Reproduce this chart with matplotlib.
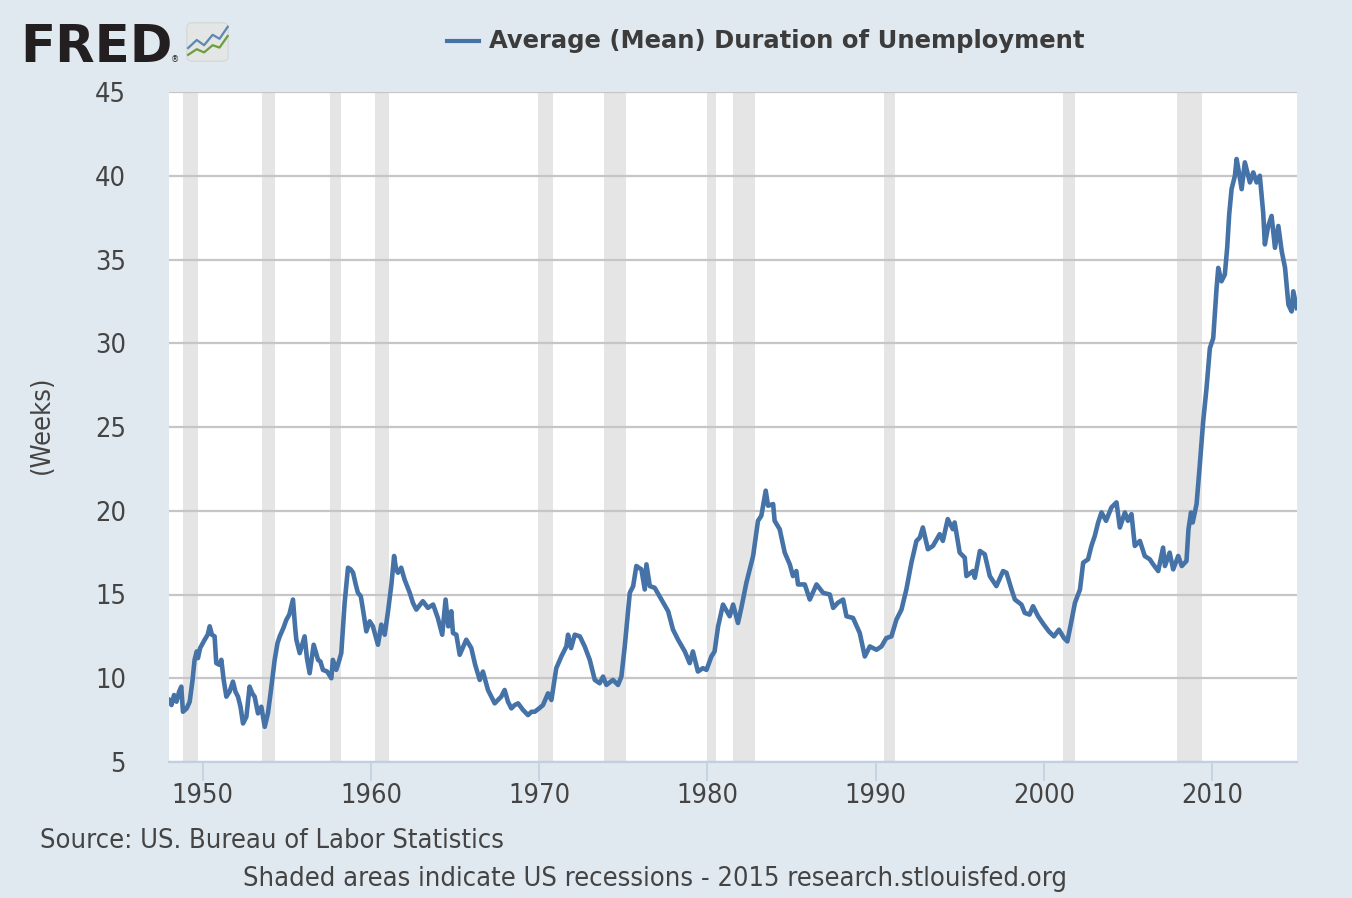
import matplotlib
matplotlib.use('Agg')
import matplotlib.pyplot as plt
from matplotlib.lines import Line2D
from matplotlib.patches import FancyBboxPatch

# Average (Mean) Duration of Unemployment, weeks
years = [
    1948.00, 1948.15, 1948.30, 1948.45, 1948.60, 1948.73, 1948.83, 1949.05, 1949.23, 1949.40,
    1949.52, 1949.65, 1949.72, 1949.85, 1950.12, 1950.30, 1950.42, 1950.55, 1950.71, 1950.81,
    1951.00, 1951.11, 1951.25, 1951.41, 1951.60, 1951.80, 1951.95, 1952.10, 1952.25, 1952.40,
    1952.60, 1952.79, 1952.95, 1953.09, 1953.29, 1953.49, 1953.69, 1953.88, 1954.05, 1954.28,
    1954.45, 1954.58, 1954.80, 1954.98, 1955.15, 1955.27, 1955.37, 1955.50, 1955.57, 1955.77,
    1956.06, 1956.20, 1956.36, 1956.60, 1956.86, 1957.00, 1957.15, 1957.40, 1957.65, 1957.74,
    1957.94, 1958.10, 1958.24, 1958.44, 1958.64, 1958.80, 1958.94, 1959.10, 1959.23, 1959.40,
    1959.53, 1959.73, 1959.93, 1960.12, 1960.42, 1960.62, 1960.82, 1961.02, 1961.22, 1961.38,
    1961.50, 1961.61, 1961.80, 1962.00, 1962.31, 1962.50, 1962.70, 1963.09, 1963.39, 1963.70,
    1963.98, 1964.24, 1964.44, 1964.60, 1964.78, 1964.88, 1965.08, 1965.28, 1965.67, 1965.97,
    1966.20, 1966.47, 1966.66, 1966.96, 1967.36, 1967.55, 1967.75, 1967.95, 1968.15, 1968.35,
    1968.55, 1968.75, 1969.05, 1969.34, 1969.55, 1969.74, 1970.00, 1970.23, 1970.53, 1970.73,
    1971.02, 1971.32, 1971.62, 1971.72, 1971.90, 1972.12, 1972.42, 1972.71, 1973.01, 1973.31,
    1973.60, 1973.80, 1974.00, 1974.39, 1974.69, 1974.89, 1975.09, 1975.39, 1975.59, 1975.78,
    1976.08, 1976.28, 1976.38, 1976.58, 1976.87, 1977.27, 1977.67, 1977.96, 1978.26, 1978.66,
    1978.95, 1979.14, 1979.44, 1979.73, 1979.95, 1980.24, 1980.43, 1980.64, 1980.93, 1981.33,
    1981.53, 1981.82, 1982.02, 1982.32, 1982.72, 1983.01, 1983.21, 1983.47, 1983.61, 1983.91,
    1984.00, 1984.30, 1984.60, 1984.90, 1985.09, 1985.29, 1985.39, 1985.79, 1986.09, 1986.49,
    1986.88, 1987.28, 1987.48, 1987.75, 1988.07, 1988.27, 1988.66, 1989.06, 1989.36, 1989.66,
    1990.05, 1990.35, 1990.64, 1990.94, 1991.24, 1991.54, 1991.83, 1992.13, 1992.43, 1992.63,
    1992.81, 1993.11, 1993.41, 1993.81, 1994.00, 1994.29, 1994.59, 1994.70, 1995.00, 1995.30,
    1995.40, 1995.79, 1995.90, 1996.20, 1996.49, 1996.79, 1997.18, 1997.58, 1997.78, 1998.08,
    1998.28, 1998.67, 1998.87, 1999.15, 1999.36, 1999.66, 2000.00, 2000.30, 2000.60, 2000.90,
    2001.20, 2001.40, 2001.60, 2001.85, 2002.15, 2002.34, 2002.63, 2002.83, 2003.03, 2003.23,
    2003.43, 2003.70, 2004.02, 2004.32, 2004.52, 2004.82, 2005.00, 2005.21, 2005.41, 2005.71,
    2006.00, 2006.30, 2006.50, 2006.80, 2007.09, 2007.20, 2007.48, 2007.69, 2007.99, 2008.20,
    2008.48, 2008.60, 2008.75, 2008.85, 2009.08, 2009.27, 2009.47, 2009.67, 2009.87, 2010.07,
    2010.27, 2010.37, 2010.56, 2010.76, 2010.90, 2011.02, 2011.16, 2011.36, 2011.46, 2011.60,
    2011.76, 2011.95, 2012.25, 2012.45, 2012.65, 2012.84, 2013.04, 2013.14, 2013.34, 2013.54,
    2013.74, 2013.94, 2014.14, 2014.34, 2014.54, 2014.73, 2014.83, 2015.03,
]
weeks = [
    8.7, 8.4, 9.0, 8.6, 9.2, 9.5, 8.0, 8.2, 8.6, 9.9,
    11.1, 11.6, 11.2, 11.8, 12.3, 12.6, 13.1, 12.6, 12.5, 10.9,
    10.8, 11.1, 9.9, 8.9, 9.2, 9.8, 9.2, 8.9, 8.3, 7.3,
    7.7, 9.5, 9.1, 8.9, 7.9, 8.3, 7.1, 7.9, 9.2, 11.1,
    12.1, 12.5, 13.0, 13.5, 13.8, 14.3, 14.7, 13.0, 12.3, 11.5,
    12.5, 11.2, 10.3, 12.0, 11.1, 11.0, 10.5, 10.4, 10.0, 11.1,
    10.5, 11.0, 11.5, 14.5, 16.6, 16.5, 16.3, 15.6, 15.1, 14.9,
    14.1, 12.8, 13.4, 13.1, 12.0, 13.2, 12.6, 14.0, 15.6, 17.3,
    16.5, 16.3, 16.6, 15.9, 15.1, 14.5, 14.1, 14.6, 14.2, 14.4,
    13.6, 12.6, 14.7, 13.1, 14.0, 12.7, 12.6, 11.4, 12.3, 11.8,
    10.8, 9.9, 10.4, 9.3, 8.5, 8.7, 8.9, 9.3, 8.6, 8.2,
    8.4, 8.5, 8.1, 7.8, 8.0, 8.0, 8.2, 8.4, 9.1, 8.7,
    10.6, 11.3, 11.9, 12.6, 11.8, 12.6, 12.5, 11.9, 11.1, 9.9,
    9.7, 10.1, 9.6, 9.9, 9.6, 10.1, 11.9, 15.1, 15.5, 16.7,
    16.5, 15.3, 16.8, 15.5, 15.4, 14.7, 14.0, 12.9, 12.3, 11.6,
    10.9, 11.6, 10.4, 10.6, 10.5, 11.3, 11.6, 13.1, 14.4, 13.7,
    14.4, 13.3, 14.2, 15.7, 17.3, 19.4, 19.7, 21.2, 20.3, 20.4,
    19.4, 18.9, 17.5, 16.8, 16.1, 16.4, 15.6, 15.6, 14.7, 15.6,
    15.1, 15.0, 14.2, 14.5, 14.7, 13.7, 13.6, 12.7, 11.3, 11.9,
    11.7, 11.9, 12.4, 12.5, 13.5, 14.1, 15.3, 16.9, 18.2, 18.4,
    19.0, 17.7, 17.9, 18.6, 18.2, 19.5, 18.9, 19.3, 17.5, 17.2,
    16.1, 16.4, 16.0, 17.6, 17.4, 16.1, 15.5, 16.4, 16.3, 15.3,
    14.7, 14.4, 13.9, 13.8, 14.3, 13.7, 13.2, 12.8, 12.5, 12.9,
    12.4, 12.2, 13.2, 14.5, 15.3, 16.9, 17.1, 17.9, 18.5, 19.3,
    19.9, 19.4, 20.2, 20.5, 19.0, 19.9, 19.4, 19.8, 17.9, 18.2,
    17.3, 17.1, 16.8, 16.4, 17.8, 16.7, 17.5, 16.5, 17.3, 16.7,
    17.0, 18.9, 19.9, 19.3, 20.4, 22.7, 25.3, 27.3, 29.7, 30.3,
    33.3, 34.5, 33.7, 34.1, 35.7, 37.7, 39.2, 40.0, 41.0, 40.2,
    39.2, 40.8, 39.6, 40.2, 39.6, 40.0, 37.8, 35.9, 37.0, 37.6,
    35.7, 37.0, 35.5, 34.5, 32.3, 31.9, 33.1, 32.1,
]

# US recessions (NBER), decimal years
rec_start = [1948.83, 1953.50, 1957.58, 1960.25, 1969.92, 1973.83,
             1980.00, 1981.50, 1990.50, 2001.17, 2007.92]
rec_end = [1949.75, 1954.33, 1958.25, 1961.08, 1970.83, 1975.17,
           1980.50, 1982.83, 1991.17, 2001.83, 2009.42]

x_ticks = [1950, 1960, 1970, 1980, 1990, 2000, 2010]
y_ticks = [5, 10, 15, 20, 25, 30, 35, 40, 45]

BG = '#e1e9f0'
LINE = '#4572a7'
TXT = '#444444'
FONT = dict(family='DejaVu Sans', stretch='condensed')
FS = 19.5

fig = plt.figure(figsize=(13.52, 8.98), dpi=100, facecolor=BG)
ax = fig.add_axes([169 / 1352, 1 - 762 / 898, (1297 - 169) / 1352, (762 - 92) / 898])
ax.set_facecolor('white')

for s, e in zip(rec_start, rec_end):
    ax.axvspan(s, e, color='#e5e5e5', lw=0, zorder=0.2)

ax.plot(years, weeks, color=LINE, lw=3.3, zorder=3, solid_joinstyle='round')

ax.set_xlim(1948.0, 2015.05)
ax.set_ylim(5, 45)
ax.set_xticks(x_ticks)
ax.set_yticks(y_ticks)
ax.set_axisbelow(True)
ax.yaxis.grid(True, color='#c6c6c6', lw=1.6)

for side in ['top', 'right', 'left']:
    ax.spines[side].set_visible(False)
ax.spines['bottom'].set_color('#c0d0e0')
ax.spines['bottom'].set_linewidth(1.6)

ax.tick_params(axis='x', direction='out', length=14, width=1.2, color='#c0d0e0',
               labelcolor=TXT, pad=1)
ax.tick_params(axis='y', length=0, labelcolor=TXT, pad=31)
for lab in ax.get_xticklabels() + ax.get_yticklabels():
    lab.set_fontproperties(dict(size=FS, **FONT))

fig.text(42 / 1352, 1 - 425 / 898, '(Weeks)', rotation=90, ha='center', va='center',
         fontsize=FS, color=TXT, **FONT)

# legend / title
fig.add_artist(Line2D([447 / 1352, 479 / 1352], [1 - 41 / 898, 1 - 41 / 898],
                      color=LINE, lw=3, transform=fig.transFigure))
fig.text(489 / 1352, 1 - 41 / 898, 'Average (Mean) Duration of Unemployment',
         ha='left', va='center', fontsize=17.5, fontweight='bold', color='#3c3c3c')

# FRED logo
fig.text(20 / 1352, 1 - 62 / 898, 'FRED', ha='left', va='baseline', fontsize=37,
         fontweight='heavy', color='#231f20')
fig.text(171 / 1352, 1 - 62 / 898, '®', ha='left', va='baseline', fontsize=6, color='#231f20')
icon = fig.add_axes([186 / 1352, 1 - 62 / 898, 43 / 1352, 40 / 898])
icon.axis('off')
icon.set_xlim(0, 1)
icon.set_ylim(0, 1)
icon.add_patch(FancyBboxPatch((0.02, 0.02), 0.96, 0.96, boxstyle='round,pad=0,rounding_size=0.12',
                              fc='#e4e6e6', ec='#d4d6d6', lw=0.8))
icon.plot([0.05, 0.25, 0.42, 0.62, 0.78, 0.97], [0.35, 0.55, 0.42, 0.68, 0.58, 0.88],
          color='#5b87b0', lw=1.6)
icon.plot([0.05, 0.25, 0.42, 0.62, 0.78, 0.97], [0.18, 0.32, 0.24, 0.42, 0.36, 0.65],
          color='#6d9e3e', lw=1.6)

# footer
fig.text(40 / 1352, 1 - 841 / 898, 'Source: US. Bureau of Labor Statistics',
         ha='left', va='center', fontsize=FS, color=TXT, **FONT)
fig.text(655 / 1352, 1 - 879 / 898,
         'Shaded areas indicate US recessions - 2015 research.stlouisfed.org',
         ha='center', va='center', fontsize=FS, color=TXT, **FONT)

fig.savefig('out.png', dpi=100, facecolor=BG)
